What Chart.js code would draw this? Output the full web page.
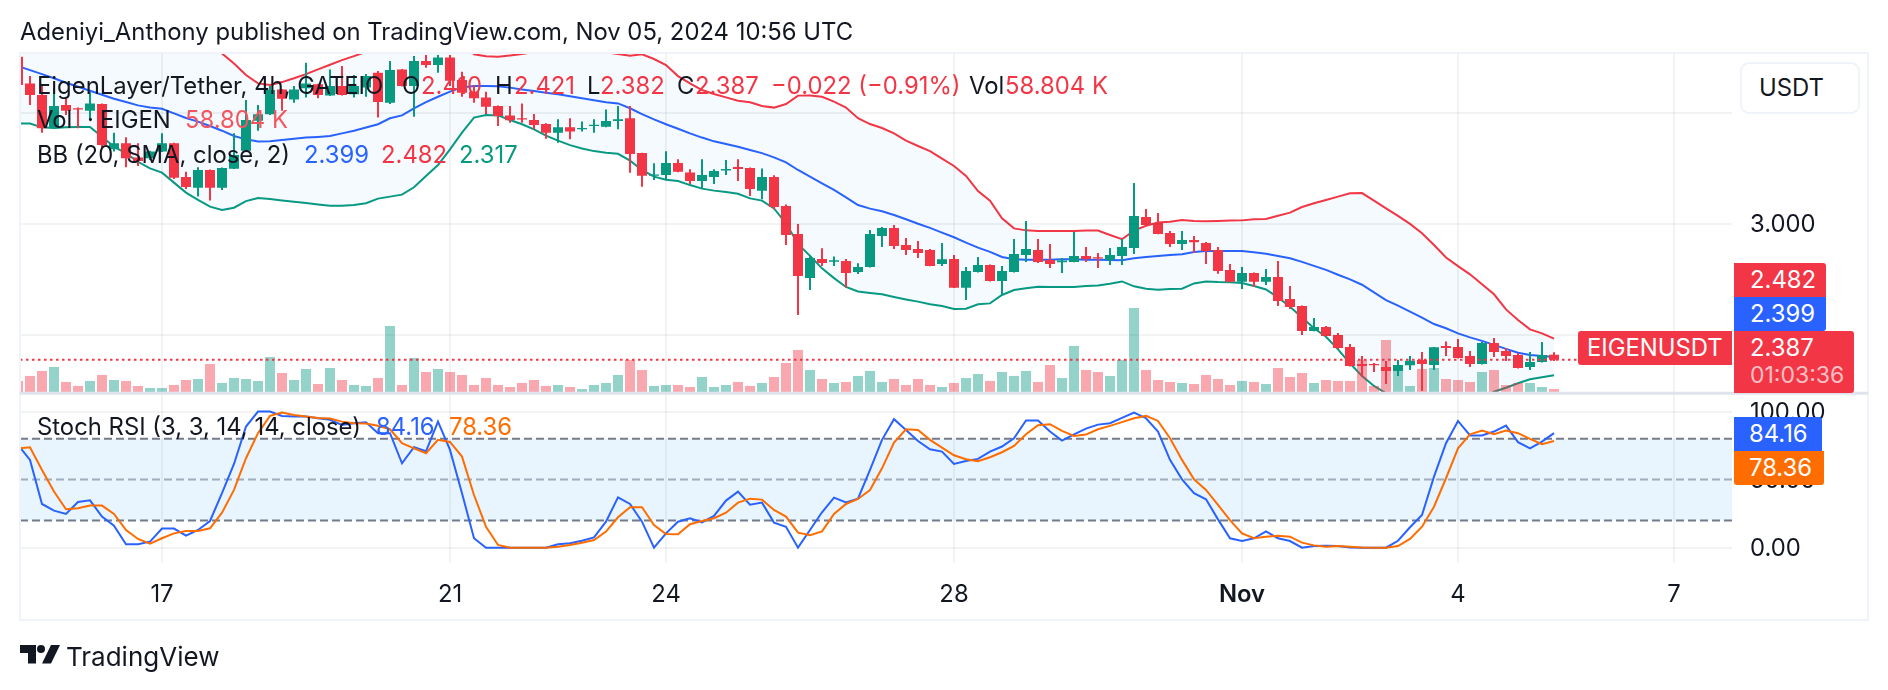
<!DOCTYPE html>
<html>
<head>
<meta charset="utf-8">
<title>EIGENUSDT</title>
<script src="https://cdn.jsdelivr.net/npm/chart.js@4"></script>
<style>
    html, body { margin: 0; background: #fff; }
    body { width: 1888px; height: 690px; position: relative; overflow: hidden; font-family: Inter, sans-serif; font-size: 23.85px; color: #131722; }
    canvas { position: absolute; left: 0; top: 0; }
    .t { position: absolute; line-height: 28px; height: 28px; white-space: pre; }
    .red { color: #f23645; } .blue { color: #2962ff; } .green { color: #089981; } .orange { color: #ff6d00; }
    .tag { position: absolute; color: #fff; line-height: 34px; padding-left: 16px; box-sizing: border-box; }
</style>
</head>
<body>
<canvas id="priceChart" width="1888" height="690"></canvas>

<div class="t" style="left:20px;top:18px">Adeniyi_Anthony published on TradingView.com, Nov 05, 2024 10:56 UTC</div>

<div class="t" style="left:37px;top:72px">EigenLayer/Tether, 4h, GATEIO</div>
<div class="t" style="left:402px;top:72px">O</div><div class="t red" style="left:421px;top:72px">2.410</div>
<div class="t" style="left:495px;top:72px">H</div><div class="t red" style="left:514px;top:72px">2.421</div>
<div class="t" style="left:587px;top:72px">L</div><div class="t red" style="left:600px;top:72px">2.382</div>
<div class="t" style="left:677px;top:72px">C</div><div class="t red" style="left:695px;top:72px">2.387</div>
<div class="t red" style="left:771px;top:72px">−0.022 (−0.91%)</div>
<div class="t" style="left:969px;top:72px">Vol</div><div class="t red" style="left:1005px;top:72px">58.804 K</div>

<div class="t" style="left:37px;top:106px">Vol</div>
<div class="t" style="left:87px;top:106px">·</div>
<div class="t" style="left:100px;top:106px">EIGEN</div>
<div class="t" style="left:185px;top:106px;color:#f4565f">58.804 K</div>

<div class="t" style="left:37px;top:141px">BB (20, SMA, close, 2)</div>
<div class="t blue" style="left:304px;top:141px">2.399</div>
<div class="t red" style="left:381px;top:141px">2.482</div>
<div class="t green" style="left:459px;top:141px">2.317</div>

<div class="t" style="left:37px;top:413px">Stoch RSI (3, 3, 14, 14, close)</div>
<div class="t blue" style="left:376px;top:413px">84.16</div>
<div class="t orange" style="left:449px;top:413px">78.36</div>

<div style="position:absolute;left:1740px;top:62px;width:120px;height:52px;box-sizing:border-box;border:2px solid #f0f3fa;border-radius:9px;background:#fff;line-height:48px;padding-left:17px">USDT</div>

<div class="tag" style="left:1734px;top:263px;width:92px;height:34px;background:#f23645;border-radius:0 3px 0 0">2.482</div>
<div class="tag" style="left:1734px;top:297px;width:92px;height:34px;background:#2962ff;border-radius:0 0 3px 0">2.399</div>
<div class="tag" style="left:1578px;top:331px;width:154px;height:34px;background:#f23645;border-radius:3px 0 0 3px;padding-left:9px">EIGENUSDT</div>
<div class="tag" style="left:1734px;top:331px;width:120px;height:62px;background:#f23645;border-radius:0 3px 3px 0">2.387<div style="color:rgba(255,255,255,.7);line-height:22px;margin-top:-1px;font-size:23px">01:03:36</div></div>
<div class="tag" style="left:1734px;top:417px;width:88px;height:34px;background:#2962ff;border-radius:0 3px 0 0;padding-left:15px">84.16</div>
<div class="tag" style="left:1734px;top:451px;width:90px;height:34px;background:#ff6d00;border-radius:0 0 3px 3px;padding-left:15px">78.36</div>

<svg style="position:absolute;left:20px;top:645px" width="40" height="19" viewBox="0 0 40 19">
    <path fill="#131722" d="M0 0H16V18.500H8V8H0Z"/>
    <circle fill="#131722" cx="21" cy="4" r="4"/>
    <path fill="#131722" d="M31 0H40L31 18.500H22Z"/>
</svg>
<div class="t" style="left:66px;top:643px;font-size:26px">TradingView</div>

<script>
    // 4h candles, one per bar index
    var opens = [3.752, 3.632, 3.580, 3.430, 3.535, 3.520, 3.509, 3.539, 3.335, 3.362,
        3.298, 3.295, 3.325, 3.362, 3.210, 3.162, 3.242, 3.162, 3.248, 3.329,
        3.464, 3.493, 3.605, 3.560, 3.610, 3.628, 3.577, 3.620, 3.583, 3.614,
        3.680, 3.545, 3.695, 3.620, 3.733, 3.715, 3.749, 3.647, 3.595, 3.569,
        3.530, 3.488, 3.475, 3.467, 3.449, 3.410, 3.434, 3.425, 3.440, 3.437,
        3.463, 3.475, 3.318, 3.216, 3.219, 3.273, 3.231, 3.192, 3.210, 3.240,
        3.255, 3.251, 3.149, 3.210, 3.080, 2.954, 2.755, 2.841, 2.829, 2.832,
        2.783, 2.805, 2.945, 2.981, 2.904, 2.886, 2.882, 2.818, 2.841, 2.712,
        2.782, 2.814, 2.742, 2.782, 2.859, 2.882, 2.837, 2.826, 2.828, 2.855,
        2.849, 2.837, 2.855, 2.891, 3.030, 3.003, 2.958, 2.909, 2.927, 2.913,
        2.882, 2.792, 2.738, 2.778, 2.738, 2.760, 2.661, 2.629, 2.517, 2.535,
        2.499, 2.445, 2.368, 2.368, 2.355, 2.337, 2.362, 2.386, 2.364, 2.449,
        2.445, 2.404, 2.368, 2.463, 2.427, 2.409, 2.355, 2.377, 2.410];

    var highs = [3.760, 3.665, 3.625, 3.610, 3.565, 3.524, 3.595, 3.542, 3.410, 3.389,
        3.362, 3.329, 3.407, 3.365, 3.234, 3.254, 3.244, 3.253, 3.407, 3.557,
        3.535, 3.620, 3.607, 3.620, 3.725, 3.630, 3.695, 3.710, 3.670, 3.674,
        3.688, 3.733, 3.697, 3.755, 3.760, 3.760, 3.760, 3.685, 3.625, 3.595,
        3.532, 3.530, 3.542, 3.494, 3.452, 3.470, 3.475, 3.460, 3.470, 3.515,
        3.530, 3.530, 3.320, 3.272, 3.326, 3.290, 3.245, 3.290, 3.245, 3.287,
        3.290, 3.253, 3.249, 3.218, 3.087, 2.999, 2.859, 2.889, 2.852, 2.841,
        2.822, 2.972, 2.985, 2.994, 2.936, 2.922, 2.886, 2.913, 2.859, 2.805,
        2.850, 2.816, 2.810, 2.931, 3.012, 2.931, 2.909, 2.846, 2.963, 2.895,
        2.868, 2.891, 2.931, 3.183, 3.066, 3.048, 2.967, 2.967, 2.945, 2.918,
        2.895, 2.819, 2.805, 2.780, 2.796, 2.832, 2.719, 2.631, 2.575, 2.539,
        2.508, 2.458, 2.404, 2.373, 2.382, 2.386, 2.404, 2.422, 2.445, 2.469,
        2.481, 2.427, 2.467, 2.485, 2.440, 2.418, 2.422, 2.467, 2.421];

    var lows = [3.622, 3.535, 3.410, 3.428, 3.490, 3.430, 3.467, 3.340, 3.325, 3.254,
        3.260, 3.287, 3.323, 3.201, 3.156, 3.122, 3.104, 3.152, 3.246, 3.327,
        3.419, 3.490, 3.509, 3.545, 3.569, 3.565, 3.575, 3.578, 3.569, 3.572,
        3.479, 3.539, 3.618, 3.482, 3.703, 3.680, 3.620, 3.572, 3.545, 3.494,
        3.440, 3.455, 3.455, 3.425, 3.383, 3.365, 3.380, 3.415, 3.410, 3.435,
        3.425, 3.230, 3.167, 3.197, 3.197, 3.232, 3.179, 3.159, 3.179, 3.219,
        3.192, 3.125, 3.110, 3.065, 2.904, 2.589, 2.701, 2.810, 2.810, 2.713,
        2.773, 2.803, 2.895, 2.886, 2.859, 2.845, 2.808, 2.810, 2.710, 2.656,
        2.780, 2.740, 2.679, 2.780, 2.828, 2.823, 2.801, 2.778, 2.826, 2.828,
        2.801, 2.814, 2.814, 2.864, 2.990, 2.952, 2.895, 2.882, 2.868, 2.819,
        2.774, 2.736, 2.706, 2.715, 2.724, 2.629, 2.616, 2.499, 2.515, 2.492,
        2.436, 2.357, 2.310, 2.332, 2.278, 2.314, 2.341, 2.246, 2.341, 2.404,
        2.393, 2.355, 2.366, 2.400, 2.381, 2.348, 2.341, 2.375, 2.382];

    var closes = [3.625, 3.580, 3.430, 3.530, 3.509, 3.514, 3.542, 3.355, 3.362, 3.295,
        3.283, 3.325, 3.362, 3.207, 3.165, 3.242, 3.162, 3.251, 3.310, 3.467,
        3.493, 3.602, 3.563, 3.605, 3.632, 3.580, 3.620, 3.580, 3.620, 3.665,
        3.548, 3.692, 3.620, 3.733, 3.715, 3.749, 3.644, 3.590, 3.565, 3.527,
        3.485, 3.466, 3.469, 3.445, 3.410, 3.434, 3.415, 3.431, 3.446, 3.463,
        3.470, 3.314, 3.216, 3.222, 3.273, 3.234, 3.192, 3.219, 3.237, 3.246,
        3.246, 3.156, 3.210, 3.075, 2.949, 2.764, 2.846, 2.823, 2.835, 2.778,
        2.805, 2.954, 2.981, 2.900, 2.882, 2.868, 2.810, 2.840, 2.712, 2.787,
        2.814, 2.742, 2.787, 2.864, 2.886, 2.828, 2.819, 2.834, 2.855, 2.841,
        2.843, 2.859, 2.895, 3.035, 2.994, 2.954, 2.909, 2.927, 2.916, 2.877,
        2.787, 2.738, 2.778, 2.738, 2.760, 2.652, 2.625, 2.517, 2.535, 2.494,
        2.440, 2.359, 2.359, 2.362, 2.337, 2.364, 2.383, 2.368, 2.443, 2.440,
        2.395, 2.368, 2.463, 2.422, 2.404, 2.350, 2.377, 2.409, 2.387];

    // volume in thousands of EIGEN
    var volumes = [216, 314, 412, 490, 196, 118, 216, 333, 235, 216,
        118, 78, 78, 137, 235, 255, 549, 176, 274, 255,
        216, 686, 372, 235, 451, 157, 470, 235, 137, 118,
        274, 1294, 137, 666, 392, 451, 392, 333, 137, 274,
        137, 98, 176, 235, 118, 137, 98, 59, 137, 176,
        333, 627, 431, 118, 137, 137, 98, 294, 98, 137,
        196, 118, 176, 294, 568, 823, 431, 255, 176, 196,
        314, 412, 196, 255, 137, 255, 137, 98, 176, 274,
        353, 216, 392, 314, 412, 196, 529, 274, 902, 431,
        392, 314, 627, 1646, 431, 235, 196, 176, 157, 333,
        255, 137, 216, 196, 157, 470, 294, 372, 176, 235,
        216, 216, 627, 118, 1019, 529, 118, 451, 470, 255,
        235, 196, 392, 431, 137, 176, 176, 98, 58.804];

    // Bollinger bands
    var bbBasis = [3.710, 3.692, 3.674, 3.655, 3.635, 3.617, 3.599, 3.581, 3.563, 3.548,
        3.533, 3.524, 3.518, 3.497, 3.476, 3.460, 3.440, 3.419, 3.395, 3.380,
        3.370, 3.372, 3.377, 3.383, 3.388, 3.391, 3.395, 3.407, 3.419, 3.433,
        3.448, 3.475, 3.488, 3.520, 3.548, 3.572, 3.595, 3.614, 3.620, 3.620,
        3.619, 3.613, 3.605, 3.598, 3.590, 3.583, 3.574, 3.565, 3.556, 3.547,
        3.542, 3.520, 3.494, 3.470, 3.448, 3.428, 3.407, 3.388, 3.371, 3.359,
        3.347, 3.332, 3.318, 3.299, 3.276, 3.242, 3.212, 3.182, 3.152, 3.119,
        3.084, 3.068, 3.056, 3.039, 3.020, 3.000, 2.981, 2.960, 2.939, 2.915,
        2.892, 2.873, 2.850, 2.840, 2.838, 2.838, 2.838, 2.840, 2.840, 2.838,
        2.838, 2.837, 2.835, 2.844, 2.850, 2.855, 2.859, 2.862, 2.873, 2.877,
        2.877, 2.877, 2.877, 2.871, 2.865, 2.855, 2.844, 2.828, 2.810, 2.792,
        2.770, 2.749, 2.725, 2.691, 2.656, 2.631, 2.604, 2.577, 2.548, 2.529,
        2.506, 2.488, 2.472, 2.454, 2.436, 2.419, 2.409, 2.404, 2.399];

    var bbUpper = [3.968, 3.933, 3.914, 3.879, 3.850, 3.820, 3.790, 3.770, 3.779, 3.779,
        3.787, 3.799, 3.806, 3.809, 3.812, 3.813, 3.803, 3.767, 3.722, 3.670,
        3.632, 3.625, 3.638, 3.655, 3.674, 3.695, 3.716, 3.737, 3.755, 3.774,
        3.783, 3.828, 3.845, 3.876, 3.881, 3.880, 3.855, 3.818, 3.763, 3.754,
        3.752, 3.758, 3.764, 3.773, 3.780, 3.785, 3.790, 3.790, 3.785, 3.772,
        3.764, 3.757, 3.763, 3.742, 3.715, 3.665, 3.632, 3.602, 3.584, 3.569,
        3.554, 3.547, 3.530, 3.523, 3.539, 3.577, 3.578, 3.572, 3.550, 3.523,
        3.475, 3.449, 3.431, 3.407, 3.374, 3.350, 3.327, 3.293, 3.260, 3.215,
        3.147, 3.104, 3.024, 2.979, 2.970, 2.967, 2.967, 2.967, 2.967, 2.969,
        2.969, 2.949, 2.930, 2.969, 2.991, 3.005, 3.009, 3.017, 3.012, 3.011,
        3.012, 3.014, 3.015, 3.020, 3.021, 3.036, 3.050, 3.075, 3.092, 3.107,
        3.122, 3.137, 3.138, 3.104, 3.069, 3.035, 2.999, 2.957, 2.904, 2.848,
        2.809, 2.772, 2.727, 2.682, 2.614, 2.566, 2.524, 2.506, 2.482];

    var bbLower = [3.452, 3.451, 3.434, 3.431, 3.434, 3.436, 3.436, 3.392, 3.347, 3.317,
        3.279, 3.249, 3.230, 3.185, 3.140, 3.107, 3.077, 3.062, 3.072, 3.102,
        3.116, 3.111, 3.105, 3.099, 3.093, 3.087, 3.081, 3.081, 3.084, 3.092,
        3.113, 3.122, 3.131, 3.164, 3.215, 3.264, 3.335, 3.410, 3.478, 3.490,
        3.488, 3.467, 3.448, 3.425, 3.397, 3.374, 3.354, 3.339, 3.327, 3.320,
        3.315, 3.284, 3.242, 3.212, 3.198, 3.192, 3.174, 3.158, 3.149, 3.143,
        3.135, 3.114, 3.104, 3.069, 3.002, 2.909, 2.855, 2.799, 2.755, 2.715,
        2.695, 2.688, 2.682, 2.670, 2.659, 2.649, 2.637, 2.629, 2.616, 2.617,
        2.637, 2.641, 2.679, 2.701, 2.709, 2.716, 2.715, 2.715, 2.715, 2.719,
        2.722, 2.730, 2.740, 2.718, 2.707, 2.703, 2.706, 2.707, 2.731, 2.740,
        2.737, 2.736, 2.733, 2.719, 2.704, 2.668, 2.626, 2.578, 2.529, 2.491,
        2.434, 2.371, 2.314, 2.269, 2.236, 2.200, 2.175, 2.150, 2.130, 2.120,
        2.130, 2.160, 2.200, 2.243, 2.261, 2.281, 2.299, 2.308, 2.317];

    // Stoch RSI
    var stochK = [75.5, 64.5, 32.1, 27.2, 24.8, 33.6, 34.8, 22.8, 16.2, 2.5,
        2.5, 4.4, 14.0, 14.0, 8.8, 13.0, 19.6, 40.0, 61.5, 89.0,
        100, 100, 96.8, 96.3, 96.3, 95.1, 93.9, 90.2, 91.4, 92.2,
        84.1, 84.1, 62.0, 73.8, 70.8, 92.6, 71.8, 40.0, 6.9, 0,
        0, 0, 0, 0, 0, 2.5, 3.2, 5.1, 7.6, 19.1,
        37.0, 32.1, 19.1, 0, 10.5, 19.1, 21.6, 18.6, 23.3, 34.6,
        41.2, 31.6, 33.1, 18.4, 15.4, 0, 13.0, 26.0, 36.8, 33.3,
        36.0, 57.1, 79.2, 94.4, 86.5, 78.4, 72.3, 70.6, 61.5, 63.7,
        65.2, 70.6, 74.3, 80.4, 93.4, 93.4, 85.3, 78.7, 83.3, 87.5,
        90.4, 91.4, 95.3, 99.3, 95.1, 85.3, 64.5, 50.2, 40.0, 35.5,
        20.8, 6.9, 4.9, 6.9, 12.0, 6.9, 4.9, 0, 1.2, 1.5,
        1.2, 0.2, 0, 0, 0, 5.1, 15.0, 24.0, 52.2, 76.7,
        93.1, 82.4, 82.4, 85.3, 89.7, 77.5, 73.0, 77.9, 84.16];

    var stochD = [72.8, 73.8, 57.1, 41.2, 28.2, 28.9, 30.9, 30.9, 24.8, 13.0,
        6.4, 2.9, 6.9, 10.5, 12.3, 12.3, 14.2, 25.7, 42.4, 65.7,
        84.1, 96.8, 99.3, 97.5, 96.3, 95.3, 94.9, 92.6, 91.4, 91.2,
        89.5, 87.0, 76.7, 73.0, 69.4, 79.2, 77.7, 66.9, 38.7, 15.4,
        2.0, 0, 0, 0, 0, 0.7, 2.0, 3.7, 5.6, 11.8,
        22.3, 29.7, 29.7, 16.7, 10.0, 9.8, 17.2, 19.6, 21.6, 25.7,
        33.1, 36.0, 35.3, 27.7, 22.8, 11.0, 9.1, 12.0, 24.8, 32.1,
        35.8, 42.4, 58.3, 77.2, 87.0, 86.5, 79.2, 73.5, 67.9, 65.0,
        63.5, 66.4, 70.1, 74.8, 83.3, 90.0, 90.7, 85.8, 82.1, 83.1,
        87.0, 89.5, 92.2, 95.1, 96.8, 93.1, 80.4, 64.5, 50.2, 42.4,
        31.4, 20.3, 10.5, 6.9, 8.1, 8.8, 8.1, 3.7, 1.7, 0.7,
        1.2, 0.7, 0.2, 0, 0, 1.2, 6.4, 15.4, 30.1, 51.0,
        73.0, 83.3, 86.0, 83.3, 86.0, 84.1, 79.9, 76.0, 78.36];

    var lastPrice = 2.387;
    var stochBandTop = 80, stochBandMid = 50, stochBandBottom = 20;

    // axis ticks, x values are bar indexes
    var timeTicks = [12, 36, 54, 78, 102, 120, 138];
    var timeLabels = ['17', '21', '24', '28', 'Nov', '4', '7'];
    var priceTicks = [2.5, 3, 3.5];
    var stochTicks = [0, 50, 100];

    var barRange = { min: 0.167, max: 142.833 };
    var upColor = '#089981', downColor = '#f23645';
    var gridColor = 'rgba(42, 46, 57, 0.06)';

    function isUp(i) { return closes[i] >= opens[i]; }
    function series(values) { return values.map((y, x) => ({ x: x, y: y })); }
    function flat(y) { return [{ x: barRange.min, y: y }, { x: barRange.max, y: y }]; }
    function line(values, color, yAxisID, order, extra) {
        return Object.assign({
            type: 'line', data: values, borderColor: color, borderWidth: 2, pointRadius: 0,
            tension: 0, yAxisID: yAxisID, order: order
        }, extra);
    }
    function bar(data, colors, thickness, yAxisID, order) {
        return {
            type: 'bar', data: data, backgroundColor: colors, borderWidth: 0, barThickness: thickness,
            grouped: false, inflateAmount: 0, yAxisID: yAxisID, order: order
        };
    }
    // the scales keep their full box, labels may hang over the ends
    function noPadding(scale) {
        scale.paddingLeft = scale.paddingRight = scale.paddingTop = scale.paddingBottom = 0;
    }

    // frame round the panes and the divider between them
    var paneFrame = {
        id: 'paneFrame',
        afterDraw: function (chart) {
            var c = chart.ctx, divider = chart.scales.price.bottom;
            c.save();
            c.strokeStyle = '#f0f3fa';
            c.lineWidth = 2;
            c.strokeRect(20, 53, 1848, 567);
            c.strokeStyle = '#e0e3eb';
            c.lineWidth = 3;
            c.beginPath();
            c.moveTo(20, divider);
            c.lineTo(1868, divider);
            c.stroke();
            c.restore();
        }
    };

    var ctx = document.getElementById('priceChart').getContext('2d');

    var priceChart = new Chart(ctx, {
        type: 'bar',
        plugins: [paneFrame],
        data: {
            datasets: [
                line(series(bbUpper), '#f23645', 'price', 7, { fill: { target: 1, above: 'rgba(33, 150, 243, 0.05)', below: 'rgba(33, 150, 243, 0.05)' } }),
                line(series(bbLower), '#089981', 'price', 7),
                line(series(bbBasis), '#2962ff', 'price', 6),
                line(flat(lastPrice), '#f23645', 'price', 1, { borderDash: [2.5, 3.5] }),
                bar(volumes.map((v, i) => ({ x: i, y: v })), volumes.map((v, i) => isUp(i) ? 'rgba(8, 153, 129, 0.43)' : 'rgba(242, 54, 69, 0.43)'), 10, 'volume', 5),
                bar(opens.map((o, i) => ({ x: i, y: [lows[i], highs[i]] })), opens.map((o, i) => isUp(i) ? upColor : downColor), 2, 'price', 4),
                bar(opens.map((o, i) => ({ x: i, y: [o, closes[i]] })), opens.map((o, i) => isUp(i) ? upColor : downColor), 10, 'price', 3),
                line(flat(stochBandTop), '#787b86', 'stoch', 8, { borderDash: [8, 4], fill: { target: 8, above: 'rgba(33, 150, 243, 0.1)', below: 'rgba(33, 150, 243, 0.1)' } }),
                line(flat(stochBandBottom), '#787b86', 'stoch', 8, { borderDash: [8, 4] }),
                line(flat(stochBandMid), 'rgba(120, 123, 134, 0.6)', 'stoch', 8, { borderDash: [8, 4] }),
                line(series(stochK), '#2962ff', 'stoch', 2),
                line(series(stochD), '#ff6d00', 'stoch', 1)
            ]
        },
        options: {
            responsive: false,
            animation: false,
            events: [],
            layout: { padding: { left: 20, top: 53, right: 20, bottom: 70 } },
            plugins: {
                legend: { display: false },
                tooltip: { enabled: false }
            },
            scales: {
                x: {
                    type: 'linear',
                    offset: false,  // the bar chart default would pad the ends
                    min: barRange.min,
                    max: barRange.max,
                    afterBuildTicks: scale => { scale.ticks = timeTicks.map(v => ({ value: v })); },
                    afterFit: scale => { scale.height = 57; noPadding(scale); },
                    border: { display: false },
                    grid: { offset: false, color: gridColor, lineWidth: 2, drawTicks: false, z: 1 },
                    ticks: {
                        autoSkip: false,
                        maxRotation: 0,
                        padding: 18,
                        color: '#131722',
                        font: c => ({ family: 'Inter', size: 23.85, weight: timeLabels[c.index] === 'Nov' ? '600' : '400' }),
                        callback: value => timeLabels[timeTicks.indexOf(value)]
                    }
                },
                price: {
                    position: 'right',
                    stack: 'panes',
                    stackWeight: 340.3,
                    min: 2.236,
                    max: 3.769,
                    afterBuildTicks: scale => { scale.ticks = priceTicks.map(v => ({ value: v })); },
                    afterFit: scale => { scale.width = 136; noPadding(scale); },
                    border: { display: false },
                    grid: { color: gridColor, lineWidth: 2, drawTicks: false, z: 1 },
                    ticks: {
                        autoSkip: false,
                        padding: 18,
                        labelOffset: 1,
                        color: '#131722',
                        font: { family: 'Inter', size: 23.85 },
                        // only the round 3.000 shows, the others sit under the overlays
                        callback: value => value === 3 ? value.toFixed(3) : ''
                    }
                },
                stoch: {
                    position: 'right',
                    stack: 'panes',
                    stackWeight: 169.7,
                    min: -11.25,
                    max: 113.4,
                    afterBuildTicks: scale => { scale.ticks = stochTicks.map(v => ({ value: v })); },
                    afterFit: scale => { scale.width = 136; noPadding(scale); },
                    border: { display: false },
                    grid: {
                        color: c => c.tick && c.tick.value === stochBandMid ? 'transparent' : gridColor,
                        lineWidth: 2, drawTicks: false, z: 1
                    },
                    ticks: {
                        autoSkip: false,
                        padding: 18,
                        labelOffset: 1,
                        color: '#131722',
                        font: { family: 'Inter', size: 23.85 },
                        callback: value => value.toFixed(2)
                    }
                },
                // volume shares the chart height, its zero sits on the price pane's bottom edge
                volume: {
                    position: 'left',
                    display: false,
                    min: -3352,
                    max: 6644
                }
            }
        }
    });
</script>
</body>
</html>
